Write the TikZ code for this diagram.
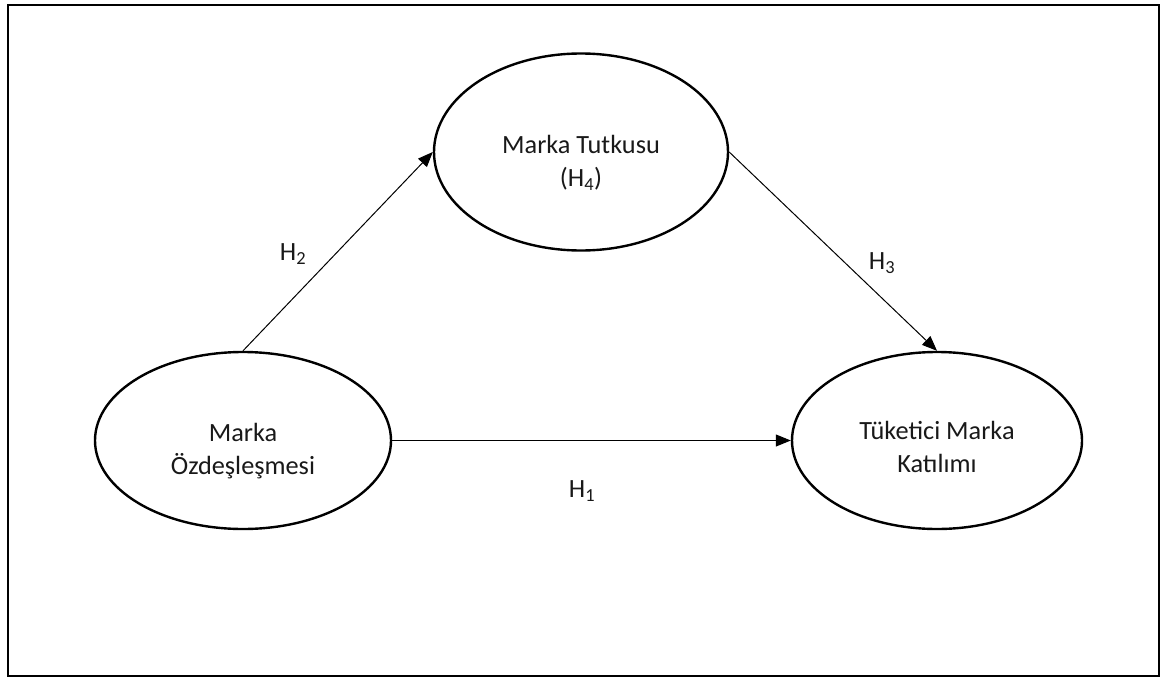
\documentclass[tikz,border=0pt]{standalone}
\usepackage{fontspec}
\setmainfont{Carlito}
\usetikzlibrary{shapes.geometric,arrows.meta}
\begin{document}
\begin{tikzpicture}[x=1pt,y=-1pt,
  oval/.style={draw=black,ellipse,line width=2.4pt,inner sep=0pt},
  lbl/.style={font=\fontsize{26.3}{33}\selectfont,align=center,inner sep=0pt,text=black!90},
  arr/.style={draw=black,line width=1pt,-{Triangle[length=15pt,width=12pt]}}]
\useasboundingbox (0,0) rectangle (1161,677);
\draw[line width=2pt] (8,5) rectangle (1159,676);
\node[oval,minimum width=296pt,minimum height=177pt] (L) at (243,440.5) {};
\node[oval,minimum width=294pt,minimum height=197pt] (T) at (581,152) {};
\node[oval,minimum width=290pt,minimum height=177pt] (R) at (937,440.5) {};
\node[lbl] (Lt) at (243,451) {Marka\\Özdeşleşmesi};
\node[lbl] (Tt) at (581,163) {Marka Tutkusu\\(H\textsubscript{4})};
\node[lbl] (Rt) at (937,447) {Tüketici Marka\\Katılımı};
\draw[arr] (L.east) -- (R.west);
\draw[arr] (L.north) -- (T.west);
\draw[arr] (T.east) -- (R.north);
\node[lbl] (h1) at (582,491) {H\textsubscript{1}};
\node[lbl] (h2) at (293,254) {H\textsubscript{2}};
\node[lbl] (h3) at (882,263) {H\textsubscript{3}};
\end{tikzpicture}
\end{document}
